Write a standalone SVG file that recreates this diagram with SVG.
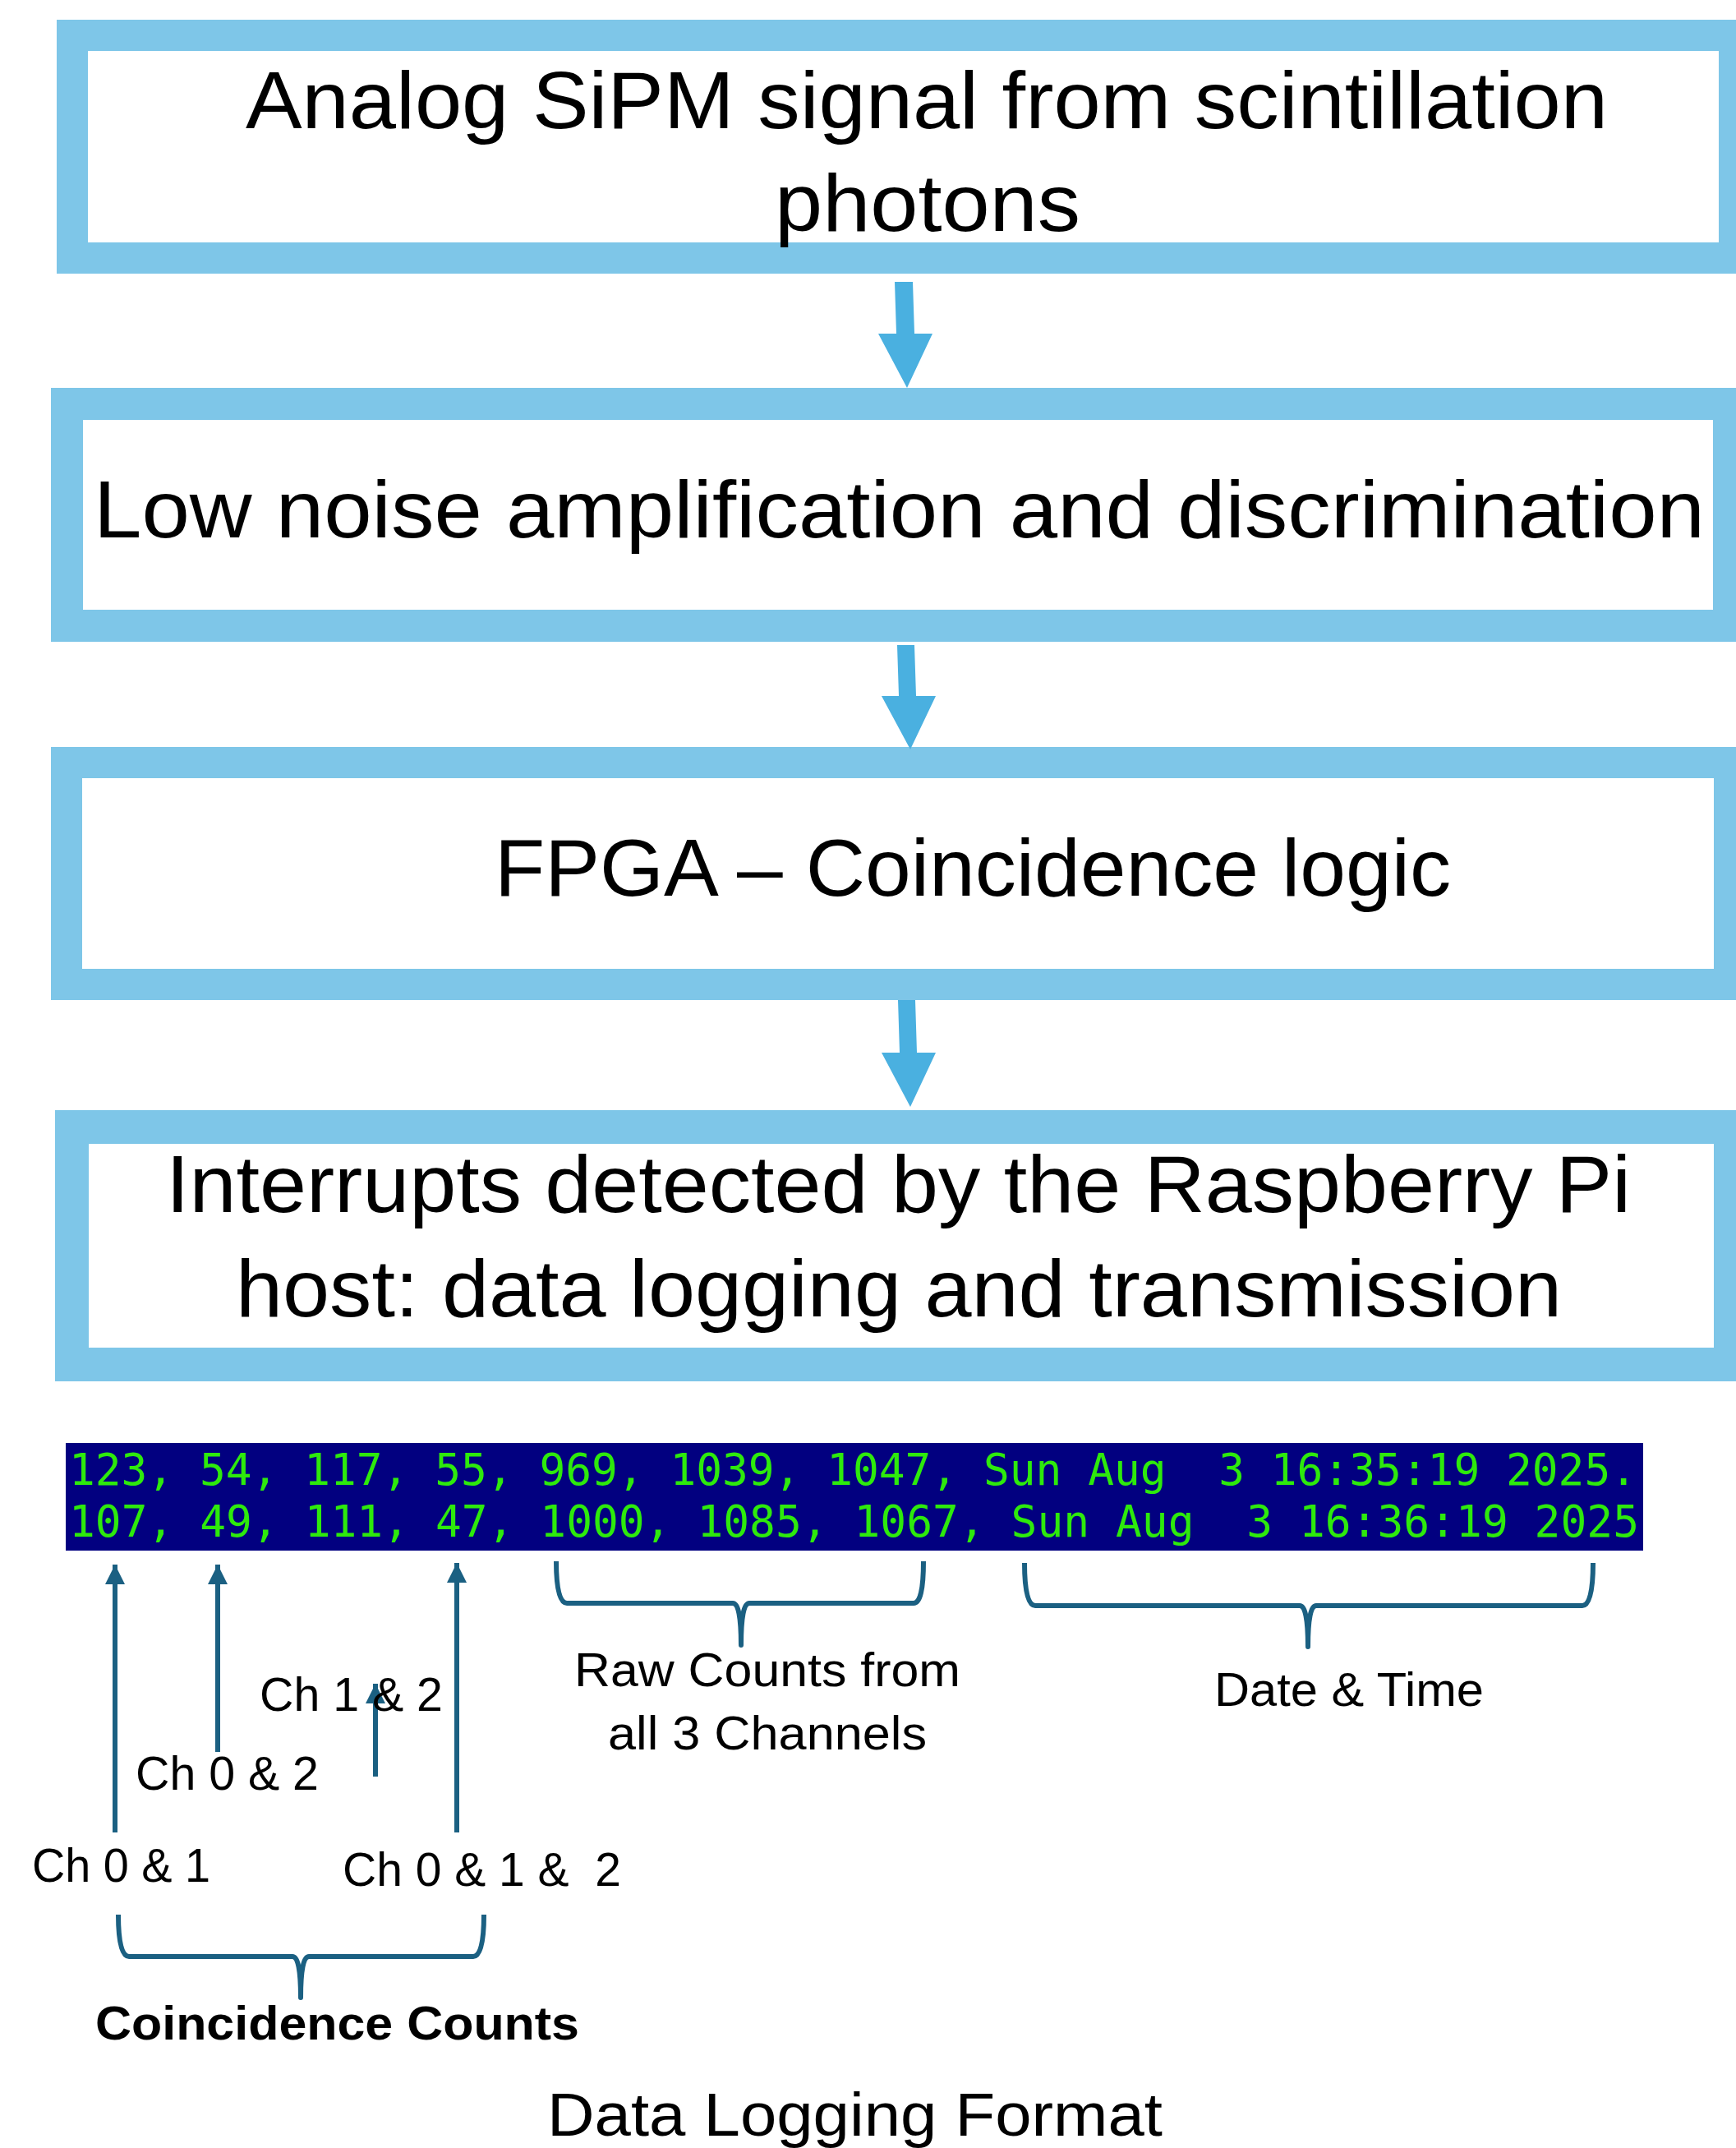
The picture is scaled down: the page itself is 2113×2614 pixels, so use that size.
<svg xmlns="http://www.w3.org/2000/svg" width="2113" height="2614" viewBox="0 0 2113 2614">
<style>
.box{fill:#ffffff;stroke:#7ec6e8;}
.bt{font-family:"Liberation Sans",Arial,sans-serif;font-size:98px;fill:#000;}
.flow{fill:#4ab0e0;}
.log{font-family:"DejaVu Sans Mono",monospace;font-size:53px;fill:#2eea0c;}
.lbl{font-family:"Liberation Sans",Arial,sans-serif;font-size:58px;fill:#000;}
.title{font-family:"Liberation Sans",Arial,sans-serif;font-size:74px;fill:#000;}
.ptr{stroke:#1b6082;stroke-width:6;fill:none;}
.brace{stroke:#1b6082;stroke-width:6;fill:none;stroke-linejoin:round;}
</style>
<defs>
<marker id="ah" markerUnits="userSpaceOnUse" markerWidth="26" markerHeight="26" viewBox="0 0 26 26" refX="24" refY="13" orient="auto">
<path d="M0,1 L24,13 L0,25 Z" fill="#1b6082"/>
</marker>
</defs>
<rect width="2113" height="2614" fill="#ffffff"/>

<g id="node-analog">
<rect class="box" x="88" y="43" width="2023" height="271" stroke-width="38"/>
<text class="bt" x="299" y="156" textLength="1658" lengthAdjust="spacingAndGlyphs">Analog SiPM signal from scintillation</text>
<text class="bt" x="943" y="281" textLength="372" lengthAdjust="spacingAndGlyphs">photons</text>
</g>
<g id="node-amp">
<rect class="box" x="81.5" y="491.5" width="2023" height="270" stroke-width="39"/>
<text class="bt" x="114" y="654" textLength="1961" lengthAdjust="spacingAndGlyphs">Low noise amplification and discrimination</text>
</g>
<g id="node-fpga">
<rect class="box" x="81" y="928" width="2024" height="270" stroke-width="38"/>
<text class="bt" x="602" y="1090" textLength="1164" lengthAdjust="spacingAndGlyphs">FPGA – Coincidence logic</text>
</g>
<g id="node-pi">
<rect class="box" x="87.5" y="1371.5" width="2019" height="289" stroke-width="41"/>
<text class="bt" x="202" y="1475" textLength="1783" lengthAdjust="spacingAndGlyphs">Interrupts detected by the Raspberry Pi</text>
<text class="bt" x="287" y="1602" textLength="1614" lengthAdjust="spacingAndGlyphs">host: data logging and transmission</text>
</g>

<g id="connectors">
<polygon class="flow" points="1089,343 1111,343 1113,406 1135,406 1104,472 1069,406 1091,406"/>
<polygon class="flow" points="1092,785 1113,785 1115,847 1139,847 1108,912 1073,847 1094,847"/>
<polygon class="flow" points="1093,1217 1114,1217 1116,1281 1139,1281 1108,1347 1073,1281 1095,1281"/>
</g>

<g id="log-data">
<rect x="80" y="1756" width="1920" height="131" fill="#020080"/>
<text class="log" x="84" y="1807" textLength="1908" lengthAdjust="spacingAndGlyphs" xml:space="preserve">123, 54, 117, 55, 969, 1039, 1047, Sun Aug  3 16:35:19 2025.</text>
<text class="log" x="84" y="1870" textLength="1911" lengthAdjust="spacingAndGlyphs" xml:space="preserve">107, 49, 111, 47, 1000, 1085, 1067, Sun Aug  3 16:36:19 2025</text>
</g>

<g id="pointers">
<line class="ptr" x1="140" y1="2230" x2="140" y2="1904" marker-end="url(#ah)"/>
<line class="ptr" x1="265" y1="2132" x2="265" y2="1904" marker-end="url(#ah)"/>
<line class="ptr" x1="457" y1="2162" x2="457" y2="2049" marker-end="url(#ah)"/>
<line class="ptr" x1="556" y1="2230" x2="556" y2="1902" marker-end="url(#ah)"/>
</g>

<g id="braces">
<path class="brace" d="M677,1900 Q677,1951 690,1951 L892,1951 Q902,1951 902,2002 Q902,1951 912,1951 L1112,1951 Q1124,1951 1124,1900"/>
<path class="brace" d="M1247,1902 Q1247,1954 1260,1954 L1582,1954 Q1592,1954 1592,2004 Q1592,1954 1602,1954 L1926,1954 Q1939,1954 1939,1902"/>
<path class="brace" d="M144,2330 Q144,2381 157,2381 L356,2381 Q366,2381 366,2431 Q366,2381 376,2381 L576,2381 Q589,2381 589,2330"/>
</g>

<g id="labels">
<text class="lbl" x="316" y="2082" textLength="223" lengthAdjust="spacingAndGlyphs">Ch 1 &amp; 2</text>
<text class="lbl" x="165" y="2178" textLength="223" lengthAdjust="spacingAndGlyphs">Ch 0 &amp; 2</text>
<text class="lbl" x="39" y="2290" textLength="217" lengthAdjust="spacingAndGlyphs">Ch 0 &amp; 1</text>
<text class="lbl" x="417" y="2295" textLength="339" lengthAdjust="spacingAndGlyphs" xml:space="preserve">Ch 0 &amp; 1 &amp;  2</text>
<text class="lbl" x="699" y="2052" textLength="470" lengthAdjust="spacingAndGlyphs">Raw Counts from</text>
<text class="lbl" x="740" y="2129" textLength="388" lengthAdjust="spacingAndGlyphs">all 3 Channels</text>
<text class="lbl" x="1478" y="2076" textLength="328" lengthAdjust="spacingAndGlyphs">Date &amp; Time</text>
<text class="lbl" x="116" y="2482" font-weight="bold" textLength="589" lengthAdjust="spacingAndGlyphs">Coincidence Counts</text>
<text class="title" x="666" y="2599" textLength="749" lengthAdjust="spacingAndGlyphs">Data Logging Format</text>
</g>
</svg>
